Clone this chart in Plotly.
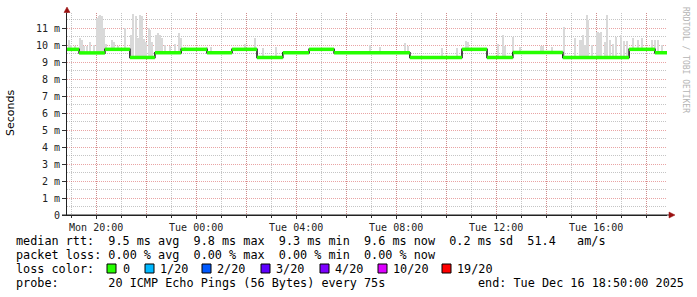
import numpy as np
import pandas as pd
import plotly.graph_objects as go

# ---------------- data ----------------
START = pd.Timestamp("2025-12-15 18:50")
END = pd.Timestamp("2025-12-16 18:50")

# median rtt: segment edges (minutes after START) and level (ms) of each segment
step_edges_min = [0, 29, 91, 151, 211, 274, 336, 396, 456, 518, 581, 641,
                  823, 948, 1008, 1070, 1190, 1349, 1411, 1440]
median_ms = [9.76, 9.55, 9.76, 9.28, 9.56, 9.76, 9.56, 9.76, 9.28, 9.56,
             9.76, 9.56, 9.28, 9.76, 9.28, 9.58, 9.28, 9.76, 9.56]

# smoke spikes: time (minutes after START) and top of the ping spread (ms)
smoke_min = [5, 10, 19, 31, 36, 41, 48, 55, 65, 72, 77, 79, 84, 89, 94, 108, 113,
             122, 139, 154, 158, 166, 170, 175, 180, 185, 190, 197, 199, 204, 214,
             218, 223, 228, 235, 247, 259, 269, 274, 283, 336, 346, 427, 451, 470,
             502, 727, 751, 811, 818, 900, 936, 958, 962, 1034, 1046, 1051, 1070,
             1087, 1138, 1142, 1164, 1193, 1219, 1231, 1236, 1238, 1243, 1248, 1250,
             1260, 1272, 1274, 1277, 1282, 1291, 1296, 1303, 1310, 1318, 1330, 1337,
             1344, 1358, 1370, 1380, 1404, 1411, 1418, 1428]
smoke_top_ms = [10.3, 10.0, 9.95, 10.4, 10.3, 9.95, 9.95, 10.2, 10.0, 11.6, 11.75,
                11.8, 11.75, 11.0, 10.1, 10.3, 10.2, 9.95, 11.0, 10.6, 11.85, 11.7,
                10.4, 11.8, 11.7, 10.35, 10.2, 11.0, 10.9, 10.2, 10.6, 10.7, 10.6,
                10.4, 10.0, 9.95, 10.1, 10.7, 10.4, 9.9, 9.9, 9.9, 10.1, 10.4, 9.85,
                9.9, 10.0, 9.9, 10.15, 9.95, 9.85, 9.85, 10.25, 10.2, 10.1, 10.6,
                9.95, 10.5, 9.9, 9.95, 9.95, 9.9, 11.1, 10.45, 10.3, 10.3, 10.6, 10.0,
                11.8, 11.5, 10.0, 10.8, 10.8, 10.75, 10.8, 10.2, 11.8, 10.3, 10.05,
                10.5, 10.6, 10.25, 10.25, 10.4, 10.3, 10.4, 10.3, 10.3, 10.3, 10.0]

y_tick_vals = [0, 1, 2, 3, 4, 5, 6, 7, 8, 9, 10, 11]
y_tick_labels = ["0", "1 m", "2 m", "3 m", "4 m", "5 m", "6 m", "7 m", "8 m",
                 "9 m", "10 m", "11 m"]
x_tick_times = ["2025-12-15 20:00", "2025-12-15 22:00", "2025-12-16 00:00",
                "2025-12-16 02:00", "2025-12-16 04:00", "2025-12-16 06:00",
                "2025-12-16 08:00", "2025-12-16 10:00", "2025-12-16 12:00",
                "2025-12-16 14:00", "2025-12-16 16:00", "2025-12-16 18:00"]
x_tick_labels = ["Mon 20:00", "", "Tue 00:00", "", "Tue 04:00", "", "Tue 08:00",
                 "", "Tue 12:00", "", "Tue 16:00", ""]

loss_labels = ["0", "1/20", "2/20", "3/20", "4/20", "10/20", "19/20"]
loss_colors = ["#26ff00", "#00b8ff", "#0059ff", "#5e00ff", "#7e00ff", "#dd00ff", "#ff0000"]

legend_line1 = "median rtt:  9.5 ms avg  9.8 ms max  9.3 ms min  9.6 ms now  0.2 ms sd  51.4   am/s"
legend_line2 = "packet loss: 0.00 % avg  0.00 % max  0.00 % min  0.00 % now"
legend_line3 = "loss color:"
legend_line4 = "probe:       20 ICMP Echo Pings (56 Bytes) every 75s"
legend_end = "end: Tue Dec 16 18:50:00 2025"

# ---------------- derived ----------------
def t(m):
    return START + pd.Timedelta(minutes=float(m))

edges_t = [t(m) for m in step_edges_min]

# black median step line
step_x = edges_t[:-1] + [edges_t[-1]]
step_y = median_ms + [median_ms[-1]]

# green horizontal median segments
gx, gy = [], []
for i, lvl in enumerate(median_ms):
    gx += [edges_t[i], edges_t[i + 1], None]
    gy += [lvl, lvl, None]

# smoke bars based on the median at that time
seg_idx = np.searchsorted(np.array(step_edges_min), np.array(smoke_min), side="right") - 1
smoke_base = [median_ms[min(i, len(median_ms) - 1)] - 0.05 for i in seg_idx]
smoke_h = [top - b for top, b in zip(smoke_top_ms, smoke_base)]
smoke_x = [t(m) for m in smoke_min]

# ---------------- figure ----------------
W, H = 697, 297
L, R, T, B = 67, 30, 13, 82
PW, PH = W - L - R, H - T - B


def px(x):
    return (x - L) / PW


def py(y):
    return (H - B - y) / PH


MONO = "DejaVu Sans Mono"
RED_GRID = "rgba(215,90,90,0.55)"
GREY_GRID = "rgba(150,150,150,0.55)"

fig = go.Figure()
fig.add_trace(go.Bar(x=smoke_x, y=smoke_h, base=smoke_base, width=90000,
                     marker=dict(color="#d9d9d9", line=dict(width=0)),
                     hoverinfo="skip"))
fig.add_trace(go.Scatter(x=step_x, y=step_y, mode="lines", line_shape="hv",
                         line=dict(color="#111111", width=1.5), hoverinfo="skip"))
fig.add_trace(go.Scatter(x=gx, y=gy, mode="lines",
                         line=dict(color=loss_colors[0], width=3.5), hoverinfo="skip"))

fig.update_layout(
    width=W, height=H, margin=dict(l=L, r=R, t=T, b=B),
    plot_bgcolor="white", paper_bgcolor="white", showlegend=False,
    bargap=0,
)

fig.update_xaxes(
    type="date", range=[START, END],
    tickmode="array", tickvals=x_tick_times, ticktext=x_tick_labels,
    showgrid=True, gridcolor=RED_GRID, griddash="1px,1px", gridwidth=1,
    ticks="outside", ticklen=3, tickcolor="#333",
    tickfont=dict(family=MONO, size=10, color="#222"),
    showline=True, linecolor="#222", linewidth=1, zeroline=False,
    minor=dict(tickmode="array",
               tickvals=list(pd.date_range("2025-12-15 19:00", "2025-12-16 18:00", freq="h")),
               showgrid=True, gridcolor=GREY_GRID, griddash="1px,1px",
               ticks="outside", ticklen=2, tickcolor="#333"),
)
fig.update_yaxes(
    range=[0, 11.9],
    tickmode="array", tickvals=y_tick_vals, ticktext=y_tick_labels,
    showgrid=True, gridcolor=RED_GRID, griddash="1px,1px", gridwidth=1,
    ticks="outside", ticklen=4, tickcolor="#333",
    tickfont=dict(family=MONO, size=10, color="#222"),
    showline=True, linecolor="#222", linewidth=1, zeroline=False,
    minor=dict(tickmode="array", tickvals=[v + 0.5 for v in y_tick_vals],
               showgrid=True, gridcolor=GREY_GRID, griddash="1px,1px"),
)

shapes = []
# x axis extension and arrows
shapes.append(dict(type="line", xref="paper", yref="paper", x0=px(62), x1=px(670),
                   y0=0, y1=0, line=dict(color="#222", width=1)))
shapes.append(dict(type="line", xref="paper", yref="paper", x0=0, x1=0,
                   y0=1, y1=py(11), line=dict(color="#222", width=1)))
shapes.append(dict(type="path", xref="paper", yref="paper",
                   path=f"M {px(64)} {py(12.5)} L {px(70)} {py(12.5)} L {px(67)} {py(7)} Z",
                   fillcolor="#9a1010", line=dict(color="#9a1010", width=0.5)))
shapes.append(dict(type="path", xref="paper", yref="paper",
                   path=f"M {px(669)} {py(212)} L {px(669)} {py(218)} L {px(675)} {py(215)} Z",
                   fillcolor="#9a1010", line=dict(color="#9a1010", width=0.5)))

sq_left = [107, 145, 202, 261, 320, 378, 442]
lab_left = [123, 160, 217, 276, 335, 393, 457]
for xl, c in zip(sq_left, loss_colors):
    shapes.append(dict(type="rect", xref="paper", yref="paper",
                       x0=px(xl), x1=px(xl + 9), y0=py(273), y1=py(264),
                       fillcolor=c, line=dict(color="#000", width=1)))
fig.update_layout(shapes=shapes)


def nb(s):
    return s.replace(" ", "\u00a0")


ann = []


def text(x, y, s, size=11.9, family=MONO, color="#000", anchor="left", angle=0):
    ann.append(dict(xref="paper", yref="paper", x=px(x), y=py(y), text=nb(s),
                    showarrow=False, xanchor=anchor, yanchor="middle",
                    textangle=angle, borderpad=0,
                    font=dict(family=family, size=size, color=color)))


text(15, 241, legend_line1, size=11.8)
text(15, 255, legend_line2, size=11.8)
text(15, 269, legend_line3, size=11.8)
for xl, lab in zip(lab_left, loss_labels):
    text(xl - 1, 269, lab, size=11.8)
text(15, 282.5, legend_line4, size=11.8)
text(477, 282.5, legend_end, size=11.8)
text(10, 113, "Seconds", size=11, family="DejaVu Sans", anchor="center", angle=-90)
text(686, 60, "RRDTOOL / TOBI OETIKER", size=8, color="#b4b4b4", anchor="center", angle=90)
fig.update_layout(annotations=ann)

fig.write_html("out.html")
